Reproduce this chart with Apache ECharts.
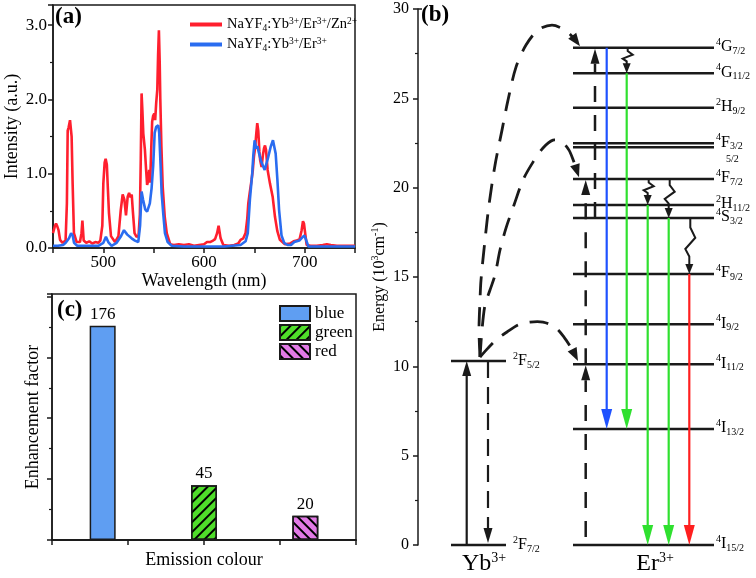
<!DOCTYPE html>
<html><head><meta charset="utf-8">
<script src="https://cdn.jsdelivr.net/npm/echarts@6/dist/echarts.min.js"></script>
<style>html,body{margin:0;padding:0;background:#fff}#c{width:756px;height:578px}</style>
</head><body><div id="c"></div>
<script>
// ================= DATA =================
// (a) emission spectra
const spectrumNames = ['NaYF4:Yb3+/Er3+/Zn2+', 'NaYF4:Yb3+/Er3+'];
const znWavelength = [450,452,453,454,455.5,457,459.5,462.5,463.8,464.6,465.5,466.9,467.6,468.5,469.5,470.8,473.5,476.8,478.3,479.2,480.5,483,486,489,492,495,497,499,500,501.3,502.3,503.5,504.5,505.6,507.6,511.6,515,517.3,519.2,520.9,522.5,524.2,525.6,527,528.2,529.3,531,533,535,536.3,537.2,538,538.8,539.7,541.3,542.5,543.5,544.5,545.5,546.5,547.5,548.5,549.5,550.6,551.5,552.5,553.6,554.4,555.2,556,556.6,557.7,559,561,563,566.5,570,575,580,585,590,595,600,603,606,609,611,613,614.5,616.5,619.2,625,630,634,636.3,639,641.3,643,644,645.5,647.3,648.5,649.6,650.8,652,652.9,653.9,655,655.8,657.2,658.5,659.6,660.6,661.6,663.2,665.5,668.2,670.5,672.8,675.4,680.4,685.4,689,692,695,697,698.3,699.3,700.3,702,706,712,718,722,726,732,740,750];
const znIntensity = [0.2,0.3,0.33,0.3,0.24,0.11,0.07,0.1,0.6,1.58,1.62,1.72,1.7,1.5,0.87,0.2,0.08,0.08,0.2,0.37,0.1,0.07,0.09,0.06,0.08,0.07,0.1,0.3,0.87,1.15,1.2,1.12,0.8,0.47,0.16,0.08,0.16,0.51,0.72,0.65,0.44,0.69,0.74,0.68,0.72,0.5,0.2,0.15,0.17,0.45,1.2,2.08,1.85,1.54,1.32,1.05,0.85,0.9,1.05,0.88,1.3,1.7,1.78,1.81,1.72,1.95,2.13,2.6,2.93,2.5,2.0,1.36,0.82,0.42,0.2,0.05,0.04,0.05,0.04,0.05,0.03,0.04,0.05,0.08,0.08,0.1,0.12,0.2,0.3,0.13,0.04,0.03,0.04,0.06,0.11,0.13,0.2,0.4,0.6,0.75,0.92,1.05,1.23,1.35,1.55,1.68,1.58,1.3,1.18,1.09,1.25,1.34,1.38,1.32,1.05,0.87,0.69,0.42,0.23,0.11,0.05,0.06,0.09,0.1,0.12,0.24,0.36,0.33,0.22,0.04,0.03,0.03,0.04,0.05,0.04,0.03,0.03,0.03];
const refWavelength = [450,455,460,462.6,465.9,468,469.5,470.9,474,480,490,495,500,502.6,504.9,508.2,513.2,517.2,520.5,523.8,528.1,531.4,534.7,536.5,538,539.5,541.6,543.5,545.2,546.2,547.9,549.5,551,552.5,554.6,555.5,556.9,557.9,559.6,561.2,563.9,567.9,580,600,620,636.3,641.3,643.5,645.6,647.9,649,650.3,651.9,653.2,654.2,656.9,660.3,663.5,666.2,668.5,669.5,671.2,672.9,674.6,677,679.6,683,686.4,689.7,694.7,697.5,699.7,701.4,703.7,710,730,750];
const refIntensity = [0.03,0.03,0.04,0.07,0.13,0.2,0.17,0.07,0.03,0.03,0.03,0.03,0.07,0.15,0.08,0.03,0.07,0.15,0.24,0.18,0.13,0.1,0.08,0.3,0.76,0.65,0.52,0.49,0.5,0.6,0.8,1.1,1.55,1.63,1.65,1.55,1.1,0.74,0.45,0.2,0.08,0.03,0.02,0.02,0.02,0.04,0.09,0.2,0.65,1.0,1.25,1.45,1.34,1.37,1.3,1.16,1.05,1.21,1.36,1.45,1.43,1.27,0.92,0.51,0.17,0.07,0.04,0.04,0.08,0.1,0.14,0.17,0.11,0.02,0.02,0.02,0.02];

// (c) enhancement factors
const emissionColours = ['blue', 'green', 'red'];
const enhancementFactors = [176, 45, 20];

// (b) energy levels (10^3 cm^-1)
const ybLevelKeys = ['2F7/2', '2F5/2'];
const ybLevelEnergies = [0, 10.3];
const erLevelKeys = ['4G7/2','4G11/2','2H9/2','4F3/2','4F5/2','4F7/2','2H11/2','4S3/2','4F9/2','4I9/2','4I11/2','4I13/2','4I15/2'];
const erLevelEnergies = [27.83, 26.40, 24.47, 22.48, 22.26, 20.48, 19.03, 18.30, 15.17, 12.35, 10.11, 6.49, 0];
const emissionFrom = ['4G7/2', '4G11/2', '2H11/2', '4S3/2', '4F9/2'];
const emissionTo = ['4I13/2', '4I13/2', '4I15/2', '4I15/2', '4I15/2'];
const emissionHue = ['blue', 'green', 'green', 'green', 'red'];
const relaxFrom = ['4G7/2', '4F7/2', '4F7/2', '4S3/2'];
const relaxTo = ['4G11/2', '2H11/2', '4S3/2', '4F9/2'];
const excitationFrom = ['4I15/2', '4I11/2', '4S3/2'];
const excitationTo = ['4I11/2', '4F7/2', '4G7/2'];
// energy-transfer curves Yb -> Er, [schematic x, energy]
const transferToG72 = [[62,10.52],[61,12.03],[62,13.71],[63,14.83],[67,17.07],[71,19.03],[77,21.26],[84,23.22],[90,24.90],[98,26.75],[108,27.98],[120,28.82],[134,29.10],[147,28.82],[156,28.37],[162,27.92]];
const transferToF72 = [[62,10.52],[64,12.03],[67,13.43],[72,14.27],[77,15.11],[82,16.51],[88,17.74],[96,19.03],[105,20.43],[115,21.43],[125,22.22],[135,22.66],[144,22.55],[151,22.10],[156,21.43],[161,20.59]];
const transferToI112 = [[62,10.52],[70,11.02],[79,11.53],[89,11.92],[100,12.31],[112,12.48],[125,12.48],[137,12.20],[146,11.64],[154,10.97],[160,10.30]];

// ================= STYLE / LAYOUT =================
const FONT = "'Liberation Serif','Times New Roman',serif";
const INK = '#1a1a1a';
const HUE = {blue:'#1f52ff', green:'#2fe02f', red:'#ff1f1f'};
const BAR_FILL = {blue:'#5f9ef2', green:'#4fdd2a', red:'#e27ae6'};
const LAYOUT = {
  ybSpan:[33,88], erSpan:[155,296], ybLabelX:95, erLabelX:298,
  ybPumpX:48.7, ybRelaxX:70, erExcX:[167.7,167.7,177],
  emissionX:[188.7,208.7,229.7,250.7,271.3], relaxX:[208.7,229.7,250.7,271.3],
  ionLabelX:[66,237]
};
const RICH = {
  sup:{fontSize:10, lineHeight:10, verticalAlign:'top', fontFamily:FONT, color:'#000'},
  sub:{fontSize:10, lineHeight:10, verticalAlign:'bottom', fontFamily:FONT, color:'#000'}
};
const RICH_SMALL = {
  sup:{fontSize:9.5, lineHeight:9, verticalAlign:'top', fontFamily:FONT, color:'#000'},
  sub:{fontSize:9.5, lineHeight:9, verticalAlign:'bottom', fontFamily:FONT, color:'#000'}
};
function chem(s){ return s.replace(/F4/, 'F{sub|4}').replace(/(\d\+)/g, '{sup|$1}'); }
function term(k){ return '{sup|' + k[0] + '}' + k[1] + '{sub|' + k.slice(2) + '}'; }

const erE = {}; erLevelKeys.forEach((k,i)=> erE[k] = erLevelEnergies[i]);

function renderDiagram(params, api){
  const P = (x,e) => api.coord([x,e]);
  const ch = [];
  const seg = (a,b,st) => ch.push({type:'line', shape:{x1:a[0],y1:a[1],x2:b[0],y2:b[1]}, style:Object.assign({stroke:INK, lineWidth:2.5}, st)});
  const head = (tip, dx, dy, len, hw, fill) => {
    const n = Math.hypot(dx,dy), ux = dx/n, uy = dy/n;
    const bx = tip[0]-ux*len, by = tip[1]-uy*len;
    ch.push({type:'polygon', shape:{points:[[tip[0],tip[1]],[bx-uy*hw,by+ux*hw],[bx+uy*hw,by-ux*hw]]}, style:{fill}});
    return [bx,by];
  };
  const txt = (x,y,text,st) => ch.push({type:'text', x, y, style:Object.assign({text, fill:'#000', fontFamily:FONT, fontSize:16, lineHeight:19, align:'left', verticalAlign:'middle', rich:RICH}, st)});
  seg(P(0,30), P(4,30), {lineWidth:1.5});
  ybLevelKeys.forEach((k,i)=>{
    const e = ybLevelEnergies[i];
    seg(P(LAYOUT.ybSpan[0],e), P(LAYOUT.ybSpan[1],e));
    const p = P(LAYOUT.ybLabelX, e); txt(p[0], p[1], term(k));
  });
  erLevelKeys.forEach((k,i)=>{
    const e = erLevelEnergies[i];
    seg(P(LAYOUT.erSpan[0],e), P(LAYOUT.erSpan[1],e));
    const p = P(LAYOUT.erLabelX, e);
    if (k === '4F5/2') txt(p[0]+10, p[1]+12, k.slice(2), {fontSize:10});
    else txt(p[0], p[1]-1, term(k));
  });
  {
    const a = P(LAYOUT.ybPumpX, ybLevelEnergies[0]), b = P(LAYOUT.ybPumpX, ybLevelEnergies[1]);
    const base = head(b, 0, -1, 15, 4.5, INK); seg(a, base, {lineWidth:2.2});
    const c = P(LAYOUT.ybRelaxX, ybLevelEnergies[1]), d = P(LAYOUT.ybRelaxX, ybLevelEnergies[0]);
    const tip = [d[0], d[1]-2];
    const base2 = head(tip, 0, 1, 15, 4.5, INK); seg(c, base2, {lineWidth:2.2, lineDash:[17,9]});
  }
  excitationFrom.forEach((f,i)=>{
    const x = LAYOUT.erExcX[i];
    const a = P(x, erE[f]), b = P(x, erE[excitationTo[i]]);
    const start = (i===0) ? [a[0], a[1]-8] : a;
    const base = head([b[0], b[1]+1], 0, -1, 15, 4.5, INK);
    seg(start, base, {lineWidth:2.5, lineDash:[16,13]});
  });
  emissionFrom.forEach((f,i)=>{
    const x = LAYOUT.emissionX[i];
    const a = P(x, erE[f]), b = P(x, erE[emissionTo[i]]);
    const col = HUE[emissionHue[i]];
    const base = head(b, 0, 1, 20, 5.5, col);
    seg(a, [base[0], base[1]+1], {stroke:col, lineWidth:2.2});
  });
  relaxFrom.forEach((f,i)=>{
    const x = LAYOUT.relaxX[i];
    const a = P(x, erE[f]), b = P(x, erE[relaxTo[i]]);
    const h = b[1]-a[1]-9;
    const pts = [[a[0]+1,a[1]],[a[0]+1,a[1]+h*0.2],[a[0]+6,a[1]+h*0.42],[a[0]-4,a[1]+h*0.66],[a[0],a[1]+h*0.82],[a[0],a[1]+h]];
    ch.push({type:'polyline', shape:{points:pts}, style:{stroke:INK, lineWidth:2, fill:null}});
    head(b, 0, 1, 10, 4, INK);
  });
  [transferToG72, transferToF72, transferToI112].forEach(curve=>{
    const pts = curve.map(d=>P(d[0], d[1]));
    const n = pts.length, tip = pts[n-1], prev = pts[n-2];
    const base = head(tip, tip[0]-prev[0], tip[1]-prev[1], 13, 5, INK);
    const line = pts.slice(0, n-1).concat([base]);
    ch.push({type:'polyline', shape:{points:line, smooth:0.3}, style:{stroke:INK, lineWidth:2.8, lineDash:[19,12], fill:null}});
  });
  const yb = P(LAYOUT.ionLabelX[0], 0), er = P(LAYOUT.ionLabelX[1], 0);
  const ionRich = Object.assign({}, RICH, {m:{fontSize:24, lineHeight:26, fontFamily:FONT, color:'#000'}, s:{fontSize:14, lineHeight:14, verticalAlign:'top', fontFamily:FONT, color:'#000'}});
  txt(yb[0], yb[1]+19, '{m|Yb}{s|3+}', {align:'center', rich:ionRich, lineHeight:26});
  txt(er[0], er[1]+19, '{m|Er}{s|3+}', {align:'center', rich:ionRich, lineHeight:26});
  return {type:'group', children:ch};
}

const axisBase = {
  axisLine:{show:true, onZero:false, lineStyle:{color:INK, width:1.5}},
  splitLine:{show:false},
};

function barItemStyle(c, i){
  const st = {color:BAR_FILL[c], borderColor:INK, borderWidth:1.5};
  if (i > 0) st.decal = {symbol:'rect', symbolSize:1, dashArrayX:[[1,0]], dashArrayY:[2,5], rotation: i===1 ? -Math.PI/4 : Math.PI/4, color:'#000'};
  return st;
}

const chart = echarts.init(document.getElementById('c'), null, {renderer:'canvas'});
chart.setOption({
  animation:false,
  backgroundColor:'#fff',
  textStyle:{fontFamily:FONT},
  grid:[
    {left:53, top:5, width:302, height:243, show:true, borderColor:INK, borderWidth:1.5, backgroundColor:'transparent'},
    {left:52, top:294, width:304, height:246, show:true, borderColor:INK, borderWidth:1.5, backgroundColor:'transparent'},
    {left:418, top:9, width:322, height:536, show:false}
  ],
  xAxis:[
    Object.assign({}, axisBase, {gridIndex:0, type:'value', min:450, max:750, interval:50,
      axisTick:{show:true, length:5, lineStyle:{color:INK, width:1.5}},
      axisLabel:{color:'#000', fontSize:17, fontFamily:FONT, margin:6, formatter:v=> v%100===0 ? String(v) : ''},
      name:'Wavelength (nm)', nameLocation:'middle', nameGap:20,
      nameTextStyle:{color:'#000', fontSize:18, fontFamily:FONT, verticalAlign:'top'}}),
    Object.assign({}, axisBase, {gridIndex:1, type:'category', data:emissionColours, position:'bottom',
      axisTick:{show:false}, axisLabel:{show:false}}),
    Object.assign({}, axisBase, {gridIndex:1, type:'value', min:0, max:4, interval:1, position:'bottom',
      axisTick:{show:true, length:5, lineStyle:{color:INK, width:1.5}}, axisLabel:{show:false},
      name:'Emission colour', nameLocation:'middle', nameGap:11,
      nameTextStyle:{color:'#000', fontSize:18, fontFamily:FONT, verticalAlign:'top'}}),
    {gridIndex:2, type:'value', min:0, max:322, show:false}
  ],
  yAxis:[
    Object.assign({}, axisBase, {gridIndex:0, type:'value', min:0, max:3.27, interval:1,
      axisTick:{show:true, length:5, lineStyle:{color:INK, width:1.5}},
      minorTick:{show:true, splitNumber:2, length:3, lineStyle:{color:INK, width:1.2}},
      axisLabel:{color:'#000', fontSize:17, fontFamily:FONT, margin:6, showMaxLabel:false,
        formatter:v=> Math.abs(v-Math.round(v))<1e-6 ? v.toFixed(1) : ''},
      name:'Intensity (a.u.)', nameLocation:'middle', nameRotate:90, nameGap:32,
      nameTextStyle:{color:'#000', fontSize:18, fontFamily:FONT}}),
    Object.assign({}, axisBase, {gridIndex:1, type:'value', min:0, max:202, interval:50,
      axisTick:{show:true, length:5, lineStyle:{color:INK, width:1.5}},
      minorTick:{show:true, splitNumber:2, length:3, lineStyle:{color:INK, width:1.2}},
      axisLabel:{show:false},
      name:'Enhancement factor', nameLocation:'middle', nameRotate:90, nameGap:10,
      nameTextStyle:{color:'#000', fontSize:18, fontFamily:FONT}}),
    Object.assign({}, axisBase, {gridIndex:2, type:'value', min:0, max:30, interval:5,
      axisTick:{show:true, length:5, lineStyle:{color:INK, width:1.5}},
      minorTick:{show:true, splitNumber:2, length:3, lineStyle:{color:INK, width:1.2}},
      axisLabel:{color:'#000', fontSize:16, fontFamily:FONT, margin:9},
      name:'Energy (10{sup|3}cm{sup|-1})', nameLocation:'middle', nameRotate:90, nameGap:24,
      nameTextStyle:{color:'#000', fontSize:16, fontFamily:FONT, lineHeight:19, rich:RICH}})
  ],
  legend:[
    {data:spectrumNames, left:185, top:11, orient:'vertical', icon:'rect', itemWidth:32, itemHeight:4, itemGap:3,
      formatter:chem,
      textStyle:{color:'#000', fontSize:14.5, fontFamily:FONT, lineHeight:17, rich:RICH_SMALL}},
    {data:emissionColours, left:274, top:300, orient:'vertical', icon:'rect', itemWidth:30, itemHeight:15, itemGap:2,
      textStyle:{color:'#000', fontSize:17, fontFamily:FONT}}
  ],
  graphic:[
    {type:'text', left:55, top:6, style:{text:'(a)', font:'bold 23px ' + FONT, fill:'#000'}},
    {type:'text', left:421, top:4, style:{text:'(b)', font:'bold 23px ' + FONT, fill:'#000'}},
    {type:'text', left:57, top:299, style:{text:'(c)', font:'bold 23px ' + FONT, fill:'#000'}}
  ],
  series:[
    {name:spectrumNames[0], type:'line', xAxisIndex:0, yAxisIndex:0, symbol:'none', smooth:false,
      data:znWavelength.map((w,i)=>[w, znIntensity[i]]), lineStyle:{color:'#ff1f2e', width:2.6}, itemStyle:{color:'#ff1f2e'}},
    {name:spectrumNames[1], type:'line', xAxisIndex:0, yAxisIndex:0, symbol:'none', smooth:false,
      data:refWavelength.map((w,i)=>[w, refIntensity[i]]), lineStyle:{color:'#2a6cf0', width:2.6}, itemStyle:{color:'#2a6cf0'}},
    ...emissionColours.map((c,i)=>({
      name:c, type:'bar', xAxisIndex:1, yAxisIndex:1, barWidth:26, barGap:'-100%',
      data:emissionColours.map((_,j)=> j===i ? enhancementFactors[j] : '-'),
      itemStyle:barItemStyle(c, i),
      label:{show:true, position:'top', distance:3, color:'#000', fontSize:17, fontFamily:FONT}
    })),
    {type:'custom', xAxisIndex:3, yAxisIndex:2, data:[[0,0]], renderItem:renderDiagram, clip:false, silent:true}
  ]
});
</script>
</body></html>
